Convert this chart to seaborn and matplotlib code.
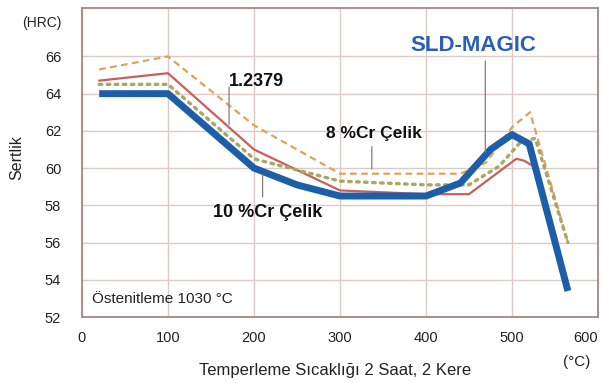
import matplotlib
matplotlib.use("Agg")
import matplotlib.pyplot as plt
import seaborn as sns

sns.set_theme(style="white")
plt.rcParams['font.family'] = ['Liberation Sans', 'DejaVu Sans']

# ---- data ----
sld_t = [20, 100, 200, 250, 300, 400, 440, 475, 500, 520, 565]
sld_h = [64.0, 64.0, 60.0, 59.1, 58.5, 58.5, 59.2, 61.0, 61.8, 61.3, 53.4]

r2379_t = [20, 100, 200, 300, 400, 450, 505, 514, 527, 563]
r2379_h = [64.7, 65.1, 61.0, 58.8, 58.6, 58.6, 60.5, 60.4, 60.05, 53.7]

cr8_t = [20, 100, 200, 300, 440, 470, 500, 521, 565]
cr8_h = [65.3, 66.0, 62.3, 59.7, 59.7, 60.3, 62.2, 63.0, 56.0]

cr10_t = [20, 100, 200, 300, 400, 450, 485, 510, 527, 565]
cr10_h = [64.5, 64.5, 60.5, 59.3, 59.1, 59.1, 60.1, 61.4, 61.6, 56.0]

x_ticks = [0, 100, 200, 300, 400, 500, 600]
y_ticks = [52, 54, 56, 58, 60, 62, 64, 66]

fig = plt.figure(figsize=(6.01, 3.83), dpi=100)
ax = fig.add_axes([0.1364, 0.1723, 0.8586, 0.8067])

sns.lineplot(x=r2379_t, y=r2379_h, ax=ax, color='#c8605a', lw=1.6,
             sort=False, estimator=None)
sns.lineplot(x=cr8_t, y=cr8_h, ax=ax, color='#dfa25c', lw=1.6,
             linestyle=(0, (3, 2)), sort=False, estimator=None)
sns.lineplot(x=cr10_t, y=cr10_h, ax=ax, color='#a8a862', lw=2.4,
             linestyle=(0, (0.8, 1.6)), sort=False, estimator=None)
ax.lines[-1].set_dash_capstyle('round')
sns.lineplot(x=sld_t, y=sld_h, ax=ax, color='#1c5ea8', lw=5,
             sort=False, estimator=None)
ax.lines[-1].set_solid_capstyle('butt')
ax.lines[-1].set_solid_joinstyle('round')

ax.set_xlim(0, 600)
ax.set_ylim(52, 68.6)
ax.set_xticks(x_ticks)
ax.set_yticks(y_ticks)
ax.set_xticklabels([str(v) for v in x_ticks])
ax.set_yticklabels([str(v) for v in y_ticks])
ax.tick_params(axis='both', length=0, labelsize=10.5, colors='#222222')
ax.tick_params(axis='y', pad=15)
ax.tick_params(axis='x', pad=10)
ax.get_xticklabels()[-1].set_horizontalalignment('right')
ax.grid(True, color='#dccbc4', lw=1.0)
ax.set_axisbelow(True)
for s in ['top', 'right', 'left', 'bottom']:
    ax.spines[s].set_color('#a8877f')
    ax.spines[s].set_linewidth(1.3)

ax.set_xlabel('')
ax.set_ylabel('')

# axis texts
fig.text(335/601, 1-370/383, 'Temperleme Sıcaklığı 2 Saat, 2 Kere',
         ha='center', va='center', fontsize=12, color='#222222')
fig.text(577/601, 1-362/383, '(°C)', ha='center', va='center',
         fontsize=11, color='#222222')
fig.text(42/601, 1-23/383, '(HRC)', ha='center', va='center',
         fontsize=10, color='#222222')
fig.text(17/601, 1-158/383, 'Sertlik', ha='center', va='center',
         rotation=90, fontsize=11.5, color='#222222')

# labels with leader lines
lc = '#8a7a76'
ax.text(455, 66.6, 'SLD-MAGIC', ha='center', va='center', fontsize=16,
        fontweight='bold', color='#2a5fb8')
ax.annotate('', xy=(469, 60.7), xytext=(469, 65.9),
            arrowprops=dict(arrowstyle='-', color=lc, lw=0.9))

ax.text(203, 64.65, '1.2379', ha='center', va='center', fontsize=13,
        fontweight='bold', color='#111111')
ax.annotate('', xy=(171, 62.2), xytext=(171, 64.5),
            arrowprops=dict(arrowstyle='-', color=lc, lw=0.9))

ax.text(340, 61.85, '8 %Cr Çelik', ha='center', va='center', fontsize=12.5,
        fontweight='bold', color='#111111')
ax.annotate('', xy=(337, 59.8), xytext=(337, 61.3),
            arrowprops=dict(arrowstyle='-', color=lc, lw=0.9))

ax.text(216, 57.6, '10 %Cr Çelik', ha='center', va='center', fontsize=13,
        fontweight='bold', color='#111111')
ax.annotate('', xy=(210, 59.8), xytext=(210, 58.3),
            arrowprops=dict(arrowstyle='-', color=lc, lw=0.9))

ax.text(12, 52.95, 'Östenitleme 1030 °C', ha='left', va='center',
        fontsize=11, color='#222222')

fig.savefig('out.png', dpi=100, facecolor='white')
